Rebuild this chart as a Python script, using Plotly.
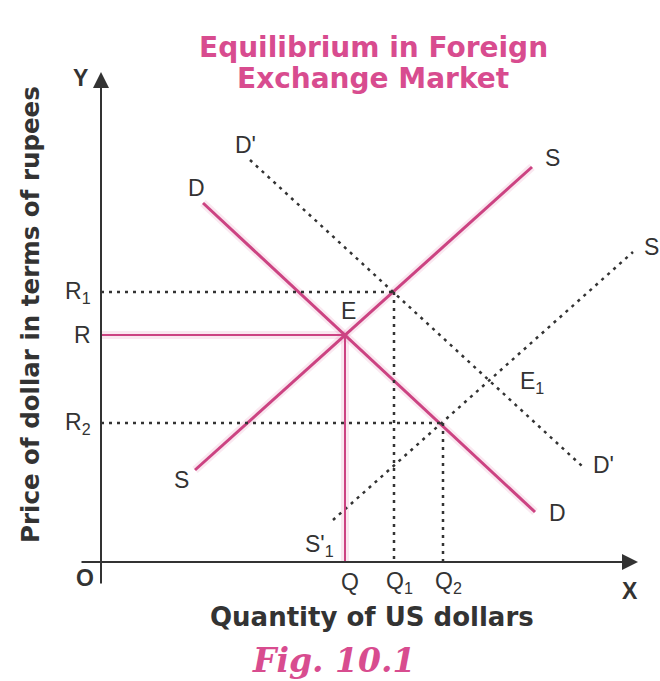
import plotly.graph_objects as go

# Schematic quantities (horizontal) and prices (vertical), origin at O
Q_LEVELS = {"Q": 244, "Q1": 293, "Q2": 342}
R_LEVELS = {"R": 227, "R1": 270, "R2": 139}

# End points of each curve: (x_start, x_end), (y_start, y_end)
demand_x, demand_y = [102, 434], [359, 50]          # D
supply_x, supply_y = [94, 431], [92, 395]           # S
demand_new_x, demand_new_y = [149, 482], [402, 95]  # D'
supply_new_x, supply_new_y = [232, 532], [42, 310]  # S'

PINK = "#cc4382"
HALO = "rgba(214, 80, 140, 0.13)"
TITLE_PINK = "#d84c8f"
INK = "#333333"
DOT = "3px,5px"

fig = go.Figure()


def add_line(xs, ys, color, width, dash="solid"):
    fig.add_trace(go.Scatter(
        x=xs, y=ys, mode="lines", hoverinfo="skip", showlegend=False,
        line=dict(color=color, width=width, dash=dash),
    ))


q, r = Q_LEVELS["Q"], R_LEVELS["R"]

# soft halo under the pink lines
for xs, ys in ((demand_x, demand_y), (supply_x, supply_y), ([0, q], [r, r]), ([q, q], [r, 0])):
    add_line(xs, ys, HALO, 8)

# curves
add_line(demand_x, demand_y, PINK, 3)
add_line(supply_x, supply_y, PINK, 3)
add_line(demand_new_x, demand_new_y, INK, 2.5, DOT)
add_line(supply_new_x, supply_new_y, INK, 2.5, DOT)

# equilibrium E: solid guides
add_line([0, q], [r, r], PINK, 2)
add_line([q, q], [r, 0], PINK, 2)

# dotted guides for R1/Q1 and R2/Q2
for qk, rk in (("Q1", "R1"), ("Q2", "R2")):
    qx, ry = Q_LEVELS[qk], R_LEVELS[rk]
    add_line([0, qx], [ry, ry], INK, 2.5, DOT)
    add_line([qx, qx], [ry, 0], INK, 2.5, DOT)

annotations = []

# axes drawn as arrows
annotations.append(dict(x=537, y=0, ax=-21, ay=0, xref="x", yref="y", axref="x", ayref="y",
                        showarrow=True, arrowhead=2, arrowsize=1.6, arrowwidth=2,
                        arrowcolor=INK, text="", standoff=0, startstandoff=0))
annotations.append(dict(x=0, y=490, ax=0, ay=-23, xref="x", yref="y", axref="x", ayref="y",
                        showarrow=True, arrowhead=2, arrowsize=1.6, arrowwidth=2,
                        arrowcolor=INK, text="", standoff=0, startstandoff=0))

LBL = dict(family="Liberation Sans, Arial, sans-serif", size=23, color=INK)


def label(text, x, y, xanchor="center", yanchor="middle", font=LBL):
    annotations.append(dict(text=text, x=x, y=y, xref="x", yref="y", showarrow=False,
                            xanchor=xanchor, yanchor=yanchor, font=font))


label("<b>Y</b>", -21, 484)
label("<b>O</b>", -16, -16)
label("<b>X</b>", 529, -29)

# price labels on the vertical axis
for key, txt in (("R1", "R<sub>1</sub>"), ("R", "R"), ("R2", "R<sub>2</sub>")):
    label(txt, -8, R_LEVELS[key], xanchor="right")

# quantity labels under the horizontal axis
for key, txt in (("Q", "Q"), ("Q1", "Q<sub>1</sub>"), ("Q2", "Q<sub>2</sub>")):
    label(txt, Q_LEVELS[key] + 5, -20)

# curve end labels
label("D", demand_x[0] - 7, demand_y[0] + 15)
label("D", demand_x[1] + 22, demand_y[1] - 1)
label("S", supply_x[0] - 14, supply_y[0] - 10)
label("S", supply_x[1] + 20, supply_y[1] + 9)
label("D'", demand_new_x[0] - 5, demand_new_y[0] + 15)
label("D'", demand_new_x[1] + 20, demand_new_y[1] + 2)
label("S'", supply_new_x[1] + 9, supply_new_y[1] + 5, xanchor="left")
label("S'<sub>1</sub>", supply_new_x[0] - 14, supply_new_y[0] - 25)
label("E", q + 3, r + 24)
label("E<sub>1</sub>", 431, 180)

# titles
TITLE_FONT = dict(family="DejaVu Sans", size=28, color=TITLE_PINK)
annotations.append(dict(text="<b>Equilibrium in Foreign</b>", x=272, y=515, xref="x", yref="y",
                        showarrow=False, font=TITLE_FONT))
annotations.append(dict(text="<b>Exchange Market</b>", x=272, y=484, xref="x", yref="y",
                        showarrow=False, font=TITLE_FONT))
annotations.append(dict(text="<b>Price of dollar in terms of rupees</b>", x=-71, y=247,
                        xref="x", yref="y", showarrow=False, textangle=-90,
                        font=dict(family="DejaVu Sans", size=24.5, color=INK)))
annotations.append(dict(text="<b>Quantity of US dollars</b>", x=271, y=-55, xref="x", yref="y",
                        showarrow=False, font=dict(family="DejaVu Sans", size=26, color=INK)))
annotations.append(dict(text="<b><i>Fig. 10.1</i></b>", x=232, y=-98, xref="x", yref="y",
                        showarrow=False, font=dict(family="DejaVu Serif", size=33, color=TITLE_PINK)))

# the axes span the whole canvas so that every label sits inside their range;
# one data unit equals one pixel, with O at (101, 562) from the top-left corner
fig.update_layout(
    width=660, height=681,
    margin=dict(l=0, r=0, t=0, b=0),
    paper_bgcolor="white", plot_bgcolor="white",
    xaxis=dict(range=[-101, 559], visible=False, fixedrange=True),
    yaxis=dict(range=[-119, 562], visible=False, fixedrange=True),
    annotations=annotations,
    showlegend=False,
)

fig.write_html("out.html", config={"displayModeBar": False})
